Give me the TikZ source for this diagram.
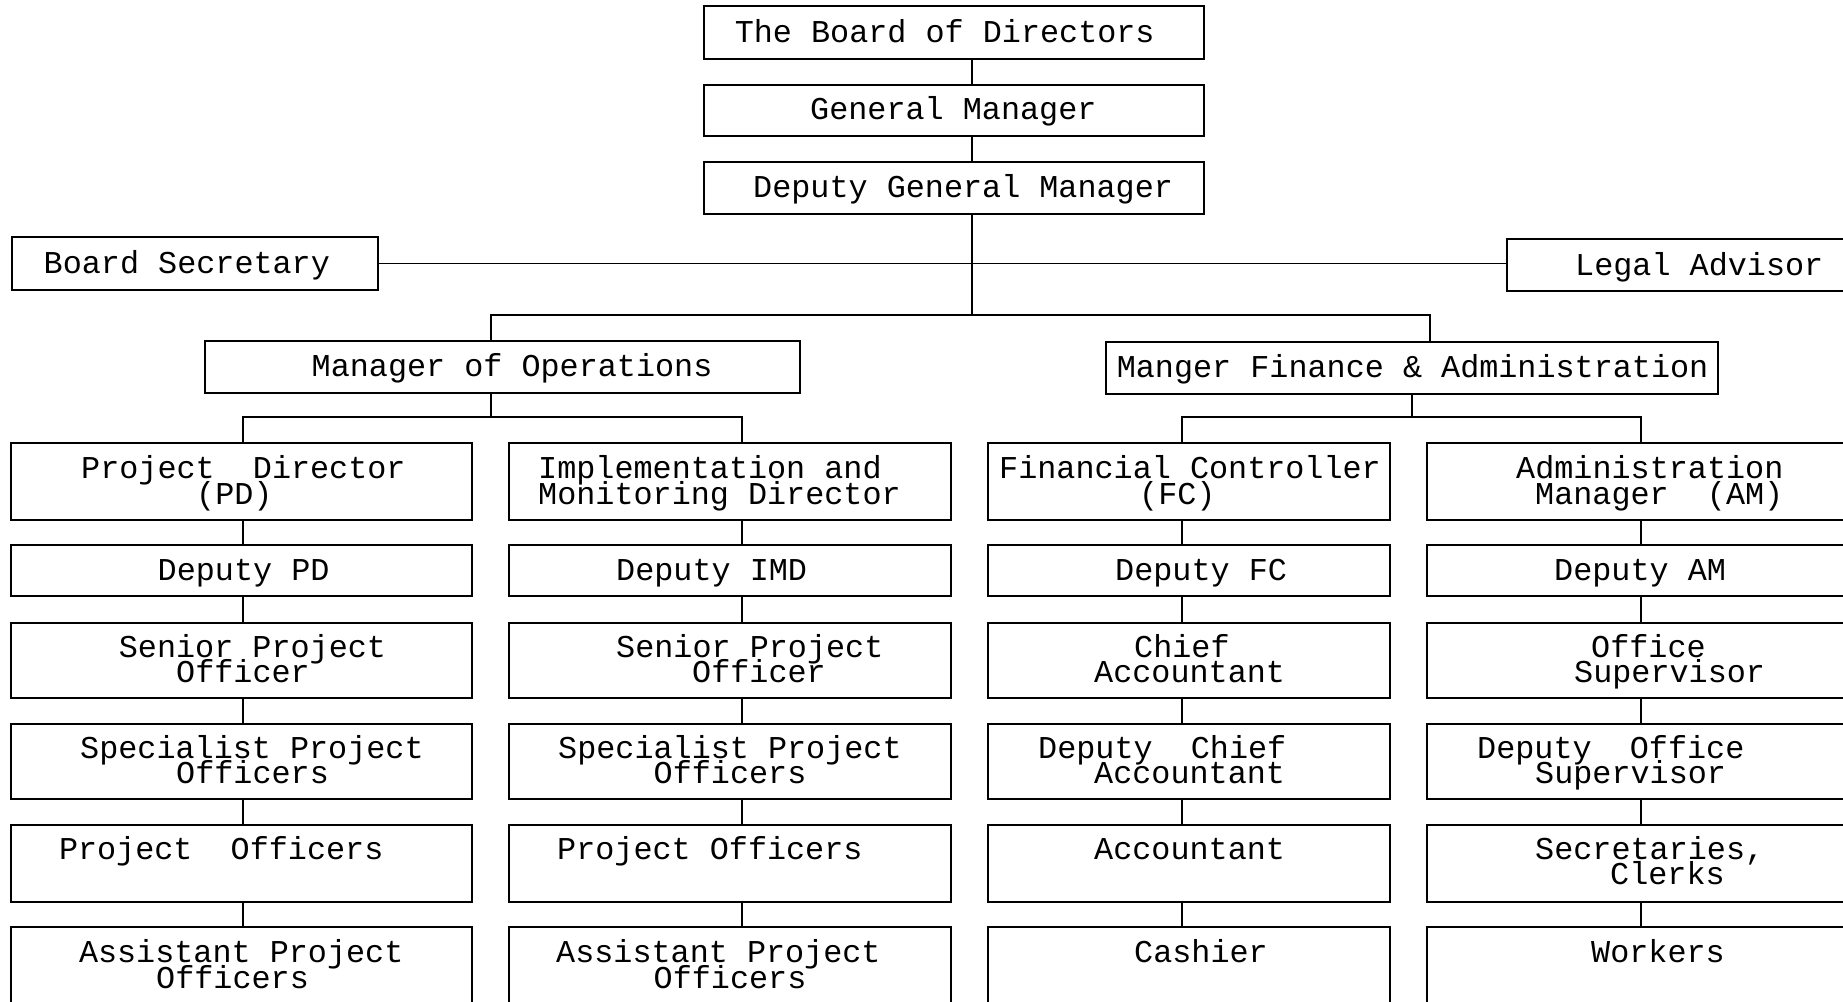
\documentclass[tikz,border=0pt]{standalone}
\usepackage{fontspec}
\newfontfamily\chartfont{Liberation Mono}
\usetikzlibrary{fit}

% box drawn from its top-left and bottom-right corners
\newcommand\orgrect[5]{\node[orgbox, fit={(#2,#3) (#4,#5)}] (#1) {};}
% one line of text placed by its baseline start
\newcommand\txt[4]{\node[lbl] (#1) at (#2,#3+1.5) {#4};}

\begin{document}
\begin{tikzpicture}[x=1pt, y=-1pt,
  orgbox/.style={draw, rectangle, inner sep=0pt, line width=2.2pt},
  lbl/.style={anchor=base west, inner sep=0pt,
              font=\chartfont\fontsize{31.8}{26}\selectfont},
  link/.style={line width=1.9pt}]
\useasboundingbox (0,0) rectangle (1843,1001);
\clip (0,0) rectangle (1843,1001);

% ---- top of the chart
\orgrect{bod}{704}{6}{1204}{59}
\orgrect{gm}{704}{85}{1204}{136}
\orgrect{dgm}{704}{162}{1204}{214}
\orgrect{bs}{12}{237}{378}{290}
\orgrect{la}{1507}{239}{1870}{291}
\orgrect{mo}{205}{341}{800}{393}
\orgrect{mf}{1106}{342}{1718}{394}

\txt{bod-t}{734.6}{41}{The Board of Directors}
\txt{gm-t}{810}{118}{General Manager}
\txt{dgm-t}{753}{196}{Deputy General Manager}
\txt{bs-t}{43.5}{272}{Board Secretary}
\txt{la-t}{1575}{273.5}{Legal Advisor}
\txt{mo-t}{311.5}{374.5}{Manager of Operations}
\txt{mf-t}{1116.6}{376}{Manger Finance \& Administration}

% ---- the four columns
\foreach \c/\xa/\xb in {a/11/472, b/509/951, c/988/1390, d/1427/1870}{
  \orgrect{\c1}{\xa}{443}{\xb}{520}
  \orgrect{\c2}{\xa}{545}{\xb}{596}
  \orgrect{\c3}{\xa}{623}{\xb}{698}
  \orgrect{\c4}{\xa}{724}{\xb}{799}
  \orgrect{\c5}{\xa}{825}{\xb}{902}
  \orgrect{\c6}{\xa}{927}{\xb}{1030}
}

% column one: projects
\txt{a1-t}{81}{477}{Project~~Director}
\txt{a1-u}{196}{503}{(PD)}
\txt{a2-t}{157.5}{579}{Deputy PD}
\txt{a3-t}{118.7}{655.5}{Senior Project}
\txt{a3-u}{176}{681}{Officer}
\txt{a4-t}{80}{756.5}{Specialist Project}
\txt{a4-u}{176}{782}{Officers}
\txt{a5-t}{58.8}{857.6}{Project~~Officers}
\txt{a6-t}{78.8}{961}{Assistant Project}
\txt{a6-u}{156}{987}{Officers}

% column two: implementation and monitoring
\txt{b1-t}{538}{477}{Implementation and}
\txt{b1-u}{538}{503}{Monitoring Director}
\txt{b2-t}{616}{579}{Deputy IMD}
\txt{b3-t}{616}{655.5}{Senior Project}
\txt{b3-u}{692}{681}{Officer}
\txt{b4-t}{558}{756.5}{Specialist Project}
\txt{b4-u}{653.5}{782}{Officers}
\txt{b5-t}{557}{857.6}{Project Officers}
\txt{b6-t}{556}{961}{Assistant Project}
\txt{b6-u}{653.5}{987}{Officers}

% column three: finance
\txt{c1-t}{999}{477}{Financial Controller}
\txt{c1-u}{1139}{503}{(FC)}
\txt{c2-t}{1115}{579}{Deputy FC}
\txt{c3-t}{1134}{655.5}{Chief}
\txt{c3-u}{1094}{681}{Accountant}
\txt{c4-t}{1038}{756.5}{Deputy~~Chief}
\txt{c4-u}{1094}{782}{Accountant}
\txt{c5-t}{1094}{857.6}{Accountant}
\txt{c6-t}{1134}{961}{Cashier}

% column four: administration
\txt{d1-t}{1516}{477}{Administration}
\txt{d1-u}{1535}{503}{Manager~~(AM)}
\txt{d2-t}{1554}{579}{Deputy AM}
\txt{d3-t}{1591}{655.5}{Office}
\txt{d3-u}{1574}{681}{Supervisor}
\txt{d4-t}{1477}{756.5}{Deputy~~Office}
\txt{d4-u}{1535}{782}{Supervisor}
\txt{d5-t}{1535}{857.6}{Secretaries,}
\txt{d5-u}{1610}{882.6}{Clerks}
\txt{d6-t}{1591}{961}{Workers}

% ---- connector positions
\coordinate (spine) at (972,0);
\coordinate (split) at (972,315);
\coordinate (opsx) at (491,0);
\coordinate (finx) at (1430,0);
\coordinate (obar) at (491,417);
\coordinate (fbar) at (1412,417);
\coordinate (ax) at (243,0);
\coordinate (bx) at (742,0);
\coordinate (cx) at (1182,0);
\coordinate (dx) at (1641,0);

% ---- connectors
\draw[link] (bod.south -| spine) -- (gm.north -| spine);
\draw[link] (gm.south -| spine) -- (dgm.north -| spine);
\draw[link] (dgm.south -| spine) -- (split);
\draw[link] (bs.east) -- (bs.east -| la.west);
\draw[link] (mo.north -| opsx) |- (split) -| (mf.north -| finx);
\draw[link] (mo.south -| obar) -- (obar);
\draw[link] (mf.south -| fbar) -- (fbar);
\draw[link] (a1.north -| ax) |- (obar) -| (b1.north -| bx);
\draw[link] (c1.north -| cx) |- (fbar) -| (d1.north -| dx);
\foreach \c in {a,b,c,d}{
  \foreach \r [evaluate=\r as \n using int(\r+1)] in {1,...,5}{
    \draw[link] (\c\r.south -| \c x) -- (\c\n.north -| \c x);
  }
}
\end{tikzpicture}
\end{document}
